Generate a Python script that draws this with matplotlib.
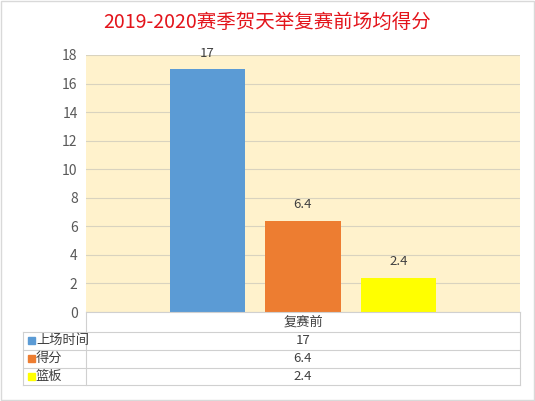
import matplotlib.pyplot as plt
from matplotlib.lines import Line2D
from matplotlib.patches import Rectangle

plt.rcParams['font.family'] = ['Noto Sans CJK SC', 'DejaVu Sans']

title = "2019-2020赛季贺天举复赛前场均得分"
category = "复赛前"
series = ["上场时间", "得分", "篮板"]
values = [17, 6.4, 2.4]
colors = ["#5B9BD5", "#ED7D31", "#FFFF00"]
yticks = [0, 2, 4, 6, 8, 10, 12, 14, 16, 18]

W, H = 535, 401
fig = plt.figure(figsize=(W / 100, H / 100), dpi=100)


def fx(px):
    return px / W


def fy(py):
    return 1 - py / H


def hline(x0, x1, y, color="#D0D0D0"):
    fig.add_artist(Line2D([fx(x0), fx(x1)], [fy(y), fy(y)], color=color, lw=0.8))


def vline(x, y0, y1, color="#D0D0D0"):
    fig.add_artist(Line2D([fx(x), fx(x)], [fy(y0), fy(y1)], color=color, lw=0.8))


# outer frame
fig.add_artist(Rectangle((0.001, 0.002), 0.997, 0.996, fill=False,
                         edgecolor="#D9D9D9", lw=1, transform=fig.transFigure))

left, right, top, bottom = 86, 520, 55, 312
ax = fig.add_axes([fx(left), fy(bottom), fx(right - left), (bottom - top) / H])
ax.set_facecolor("#FFF2CC")

n = len(values)
step = 0.22
width = 0.173
for i, (v, c) in enumerate(zip(values, colors)):
    xpos = (i - (n - 1) / 2) * step
    ax.bar(xpos, v, width=width, color=c, zorder=3)
    ax.annotate(f"{v:g}", (xpos, v), xytext=(0, 7), textcoords="offset points",
                ha="center", va="bottom", fontsize=9.5, color="#404040",
                annotation_clip=False)

ax.set_xlim(-0.5, 0.5)
ax.set_ylim(0, 18)
ax.set_yticks(yticks)
ax.set_xticks([])
ax.tick_params(axis="y", length=0, labelsize=10, labelcolor="#595959", pad=6)
ax.grid(axis="y", color="#D9D3BF", lw=0.8, zorder=1)
for s in ax.spines.values():
    s.set_visible(False)

fig.text(0.5, fy(22), title, ha="center", va="center", fontsize=14, color="#E3141B")

# data table
rows = [312, 331.5, 349.5, 367.5, 384.5]
tl = 23
hline(left, right, rows[0])
for y in rows[1:]:
    hline(tl, right, y)
vline(left, rows[0], rows[-1])
vline(right, rows[0], rows[-1])
vline(tl, rows[1], rows[-1])

mid = (left + right) / 2
fig.text(fx(mid), fy((rows[0] + rows[1]) / 2), category, ha="center", va="center",
         fontsize=9.5, color="#404040")
for i, (name, v, c) in enumerate(zip(series, values, colors)):
    yc = (rows[i + 1] + rows[i + 2]) / 2
    fig.add_artist(Rectangle((fx(28), fy(yc + 3.5)), 7 / W, 7 / H, color=c,
                             transform=fig.transFigure))
    fig.text(fx(36), fy(yc), name, ha="left", va="center", fontsize=9.5, color="#404040")
    fig.text(fx(mid), fy(yc), f"{v:g}", ha="center", va="center", fontsize=9.5,
             color="#404040")

fig.savefig("out.png", dpi=100)
